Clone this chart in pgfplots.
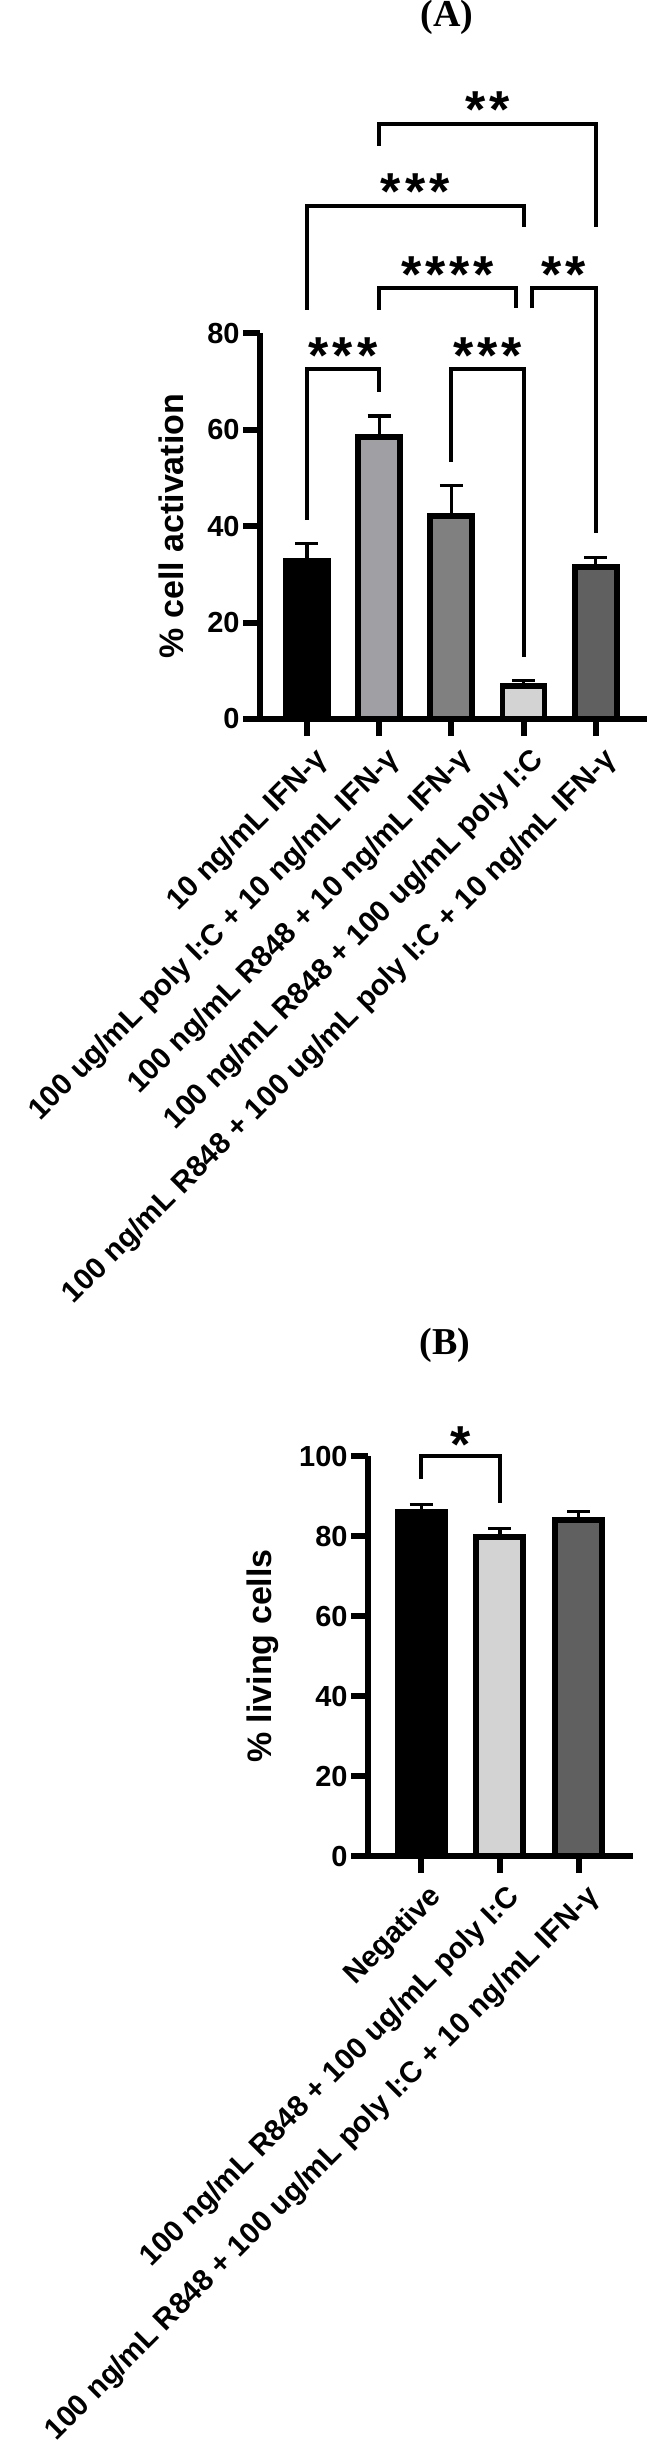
\documentclass[border=0pt]{standalone}
\usepackage{fontspec}
\setmainfont{Liberation Sans}
\newfontfamily\titlefont{Liberation Serif}
\usepackage{pgfplots}
\pgfplotsset{compat=1.18}

\definecolor{gA}{HTML}{A0A0A4}
\definecolor{gB}{HTML}{808080}
\definecolor{gC}{HTML}{D3D3D3}
\definecolor{gD}{HTML}{606060}

\newcommand{\astfont}{\bfseries\fontsize{26}{26}\selectfont}
\newcommand{\starA}{*}
\newcommand{\starB}{*\kern2pt*}
\newcommand{\starC}{*\kern2pt*\kern2pt*}
\newcommand{\starD}{*\kern2pt*\kern2pt*\kern2pt*}

\tikzset{br/.style={line width=2pt, line join=miter, black}}

\pgfplotsset{
  gp/.style={
    scale only axis,
    axis x line*=bottom, axis y line*=left,
    axis line style={line width=3pt, black},
    tick align=outside, major tick length=8.5pt,
    tick style={line width=3pt, black},
    ymin=0, clip=false,
    /pgf/number format/assume math mode=true,
    yticklabel style={font=\bfseries\fontsize{14.5}{16}\selectfont, inner xsep=1.5pt},
    xticklabel style={xshift=3pt, yshift=0pt, rotate=45, anchor=north east,
      font=\bfseries\fontsize{14.8}{16}\selectfont},
    ylabel style={font=\bfseries\fontsize{17}{19}\selectfont, rotate=0},
    title style={font=\titlefont\bfseries\fontsize{19}{21}\selectfont, anchor=center},
  },
  bA/.style={ybar, bar width=21pt, bar shift=0pt, draw=black, line width=2.85pt,
    error bars/.cd, y dir=plus, y explicit,
    error bar style={line width=1.6pt, black},
    error mark options={rotate=90, line width=1.6pt, black, mark size=5.75pt}},
  bB/.style={ybar, bar width=23.5pt, bar shift=0pt, draw=black, line width=3pt,
    error bars/.cd, y dir=plus, y explicit,
    error bar style={line width=1.6pt, black},
    error mark options={rotate=90, line width=1.6pt, black, mark size=5.75pt}},
}

\begin{document}
\begin{tikzpicture}
\path[use as bounding box] (0,0) rectangle (334pt,-1228.5pt);

% panel A
\begin{axis}[gp,
  at={(130pt,-359.5pt)}, anchor=south west,
  width=193.5pt, height=193pt,
  xmin=-0.65, xmax=4.71, ymax=80,
  ytick={0,20,40,60,80},
  xtick={0,1,2,3,4},
  xticklabels={{10 ng/mL IFN-γ},
    {100 ug/mL poly I:C + 10 ng/mL IFN-γ},
    {100 ng/mL R848 + 10 ng/mL IFN-γ},
    {100 ng/mL R848 + 100 ug/mL poly I:C},
    {100 ng/mL R848 + 100 ug/mL poly I:C + 10 ng/mL IFN-γ}},
  ylabel={\% cell activation},
  ylabel style={at={(axis description cs:-0.23,0.5)}, anchor=center, rotate=0},
  title={(A)},
  title style={at={(axis description cs:0.483,1.787)}},
]
\addplot[fill=black, bA] coordinates {(0,32.8) +- (0,3.6)};
\addplot[fill=gA, bA] coordinates {(1,58.4) +- (0,4.4)};
\addplot[fill=gB, bA] coordinates {(2,42.1) +- (0,6.3)};
\addplot[fill=gC, bA] coordinates {(3,6.9) +- (0,1.1)};
\addplot[fill=gD, bA] coordinates {(4,31.5) +- (0,2.0)};

\draw[br] (axis cs:0,41.2) -- (axis cs:0,72.6) -- (axis cs:1,72.6) -- (axis cs:1,67.8);
\draw[br] (axis cs:2,53.3) -- (axis cs:2,72.6) -- (axis cs:3,72.6) -- (axis cs:3,12.9);
\draw[br] (axis cs:1,84.8) -- (axis cs:1,89.4) -- (axis cs:2.895,89.4) -- (axis cs:2.895,85.1);
\draw[br] (axis cs:3.115,85.1) -- (axis cs:3.115,89.4) -- (axis cs:4,89.4) -- (axis cs:4,38.5);
\draw[br] (axis cs:0,84.8) -- (axis cs:0,106.4) -- (axis cs:3,106.4) -- (axis cs:3,102.0);
\draw[br] (axis cs:1,118.8) -- (axis cs:1,123.4) -- (axis cs:4,123.4) -- (axis cs:4,102.0);

\node[anchor=base, font=\astfont, inner sep=0pt] at (axis cs:0.5,71.7) {\starC};
\node[anchor=base, font=\astfont, inner sep=0pt] at (axis cs:2.5,71.7) {\starC};
\node[anchor=base, font=\astfont, inner sep=0pt] at (axis cs:1.95,88.3) {\starD};
\node[anchor=base, font=\astfont, inner sep=0pt] at (axis cs:3.56,88.3) {\starB};
\node[anchor=base, font=\astfont, inner sep=0pt] at (axis cs:1.5,105.5) {\starC};
\node[anchor=base, font=\astfont, inner sep=0pt] at (axis cs:2.5,122.5) {\starB};
\end{axis}

% panel B
\begin{axis}[gp,
  at={(184pt,-928pt)}, anchor=south west,
  width=132.5pt, height=200pt,
  xmin=-0.675, xmax=2.69, ymax=100,
  ytick={0,20,40,60,80,100},
  xtick={0,1,2},
  xticklabels={{Negative},
    {100 ng/mL R848 + 100 ug/mL poly I:C},
    {100 ng/mL R848 + 100 ug/mL poly I:C + 10 ng/mL IFN-γ}},
  ylabel={\% living cells},
  ylabel style={at={(axis description cs:-0.396,0.5)}, anchor=center, rotate=0},
  title={(B)},
  title style={at={(axis description cs:0.29,1.2475)}},
]
\addplot[fill=black, bB] coordinates {(0,86.0) +- (0,1.9)};
\addplot[fill=gC, bB] coordinates {(1,79.8) +- (0,2.1)};
\addplot[fill=gD, bB] coordinates {(2,84.0) +- (0,2.1)};

\draw[br] (axis cs:0,94.2) -- (axis cs:0,100) -- (axis cs:1,100) -- (axis cs:1,88.3);
\node[anchor=base, font=\astfont, inner sep=0pt] at (axis cs:0.5,98.5) {\starA};
\end{axis}
\end{tikzpicture}
\end{document}
